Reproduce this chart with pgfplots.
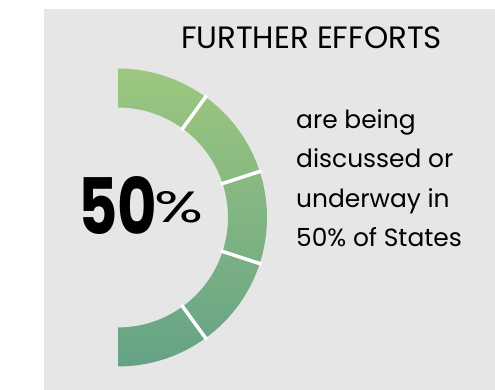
\documentclass[border=0pt]{standalone}
\usepackage{fontspec}
\setmainfont{Poppins}
\usepackage{graphicx}
\usepackage{pgfplots}
\usepackage{pgfplotstable}
\pgfplotsset{compat=1.18}
\definecolor{bg}{HTML}{E6E6E6}
\definecolor{gtop}{HTML}{9DC77F}
\definecolor{gbot}{HTML}{65A286}

% five equal shares (percent of the full circle) making up the half ring
\pgfplotstableread{
seg share
1 10
2 10
3 10
4 10
5 10
}\segtable

\def\cx{118}\def\cy{172.5}\def\rin{110}\def\rout{149}
\def\segpath{}\def\gaps{}\def\cum{0}
\pgfplotsforeachungrouped \i in {0,...,4}{%
  \pgfplotstablegetelem{\i}{share}\of\segtable
  \pgfmathsetmacro\a{90-3.6*\cum}%
  \pgfmathsetmacro\cum{\cum+\pgfplotsretval}%
  \pgfmathsetmacro\b{90-3.6*\cum}%
  \pgfmathsetmacro\dr{\rin-\rout}%
  \xdef\segpath{\segpath (axis cs:\cx,\cy) ++(\a:\rout bp) arc[start angle=\a,end angle=\b,radius=\rout bp] -- ++(\b:\dr bp) arc[start angle=\b,end angle=\a,radius=\rin bp] -- cycle }%
  \ifnum\i<4
    \xdef\gaps{\gaps (axis cs:\cx,\cy) ++(\b:\rin bp-2bp) -- ++(\b:\rout bp-\rin bp+4bp) }%
  \fi
}

\begin{document}
\begin{tikzpicture}
\begin{axis}[
  hide axis, scale only axis,
  width=495bp, height=390bp,
  xmin=0, xmax=495, ymin=0, ymax=390,
  clip=false,
]
\fill[white] (axis cs:0,0) rectangle (axis cs:495,390);
\fill[bg] (axis cs:44,0) rectangle (axis cs:495,381);
\shade[top color=gtop, bottom color=gbot] \segpath;
\draw[white, line width=3.5bp] \gaps;
\node[anchor=base, inner sep=0pt] at (axis cs:311.5,342)
  {\fontsize{31}{35}\selectfont FURTHER EFFORTS};
\node[anchor=base west, inner sep=0pt] at (axis cs:296,262) {\fontsize{25}{29}\selectfont are being};
\node[anchor=base west, inner sep=0pt] at (axis cs:296,223) {\fontsize{25}{29}\selectfont discussed or};
\node[anchor=base west, inner sep=0pt] at (axis cs:296,183) {\fontsize{25}{29}\selectfont underway in};
\node[anchor=base west, inner sep=0pt] at (axis cs:296,144) {\fontsize{25}{29}\selectfont 50\% of States};
\node[anchor=south west, inner sep=0pt] at (axis cs:78,155)
  {\resizebox{79bp}{58bp}{\bfseries 50}};
\node[anchor=south west, inner sep=0pt] at (axis cs:154,167)
  {\resizebox{49bp}{31bp}{\%}};
\end{axis}
\end{tikzpicture}
\end{document}
